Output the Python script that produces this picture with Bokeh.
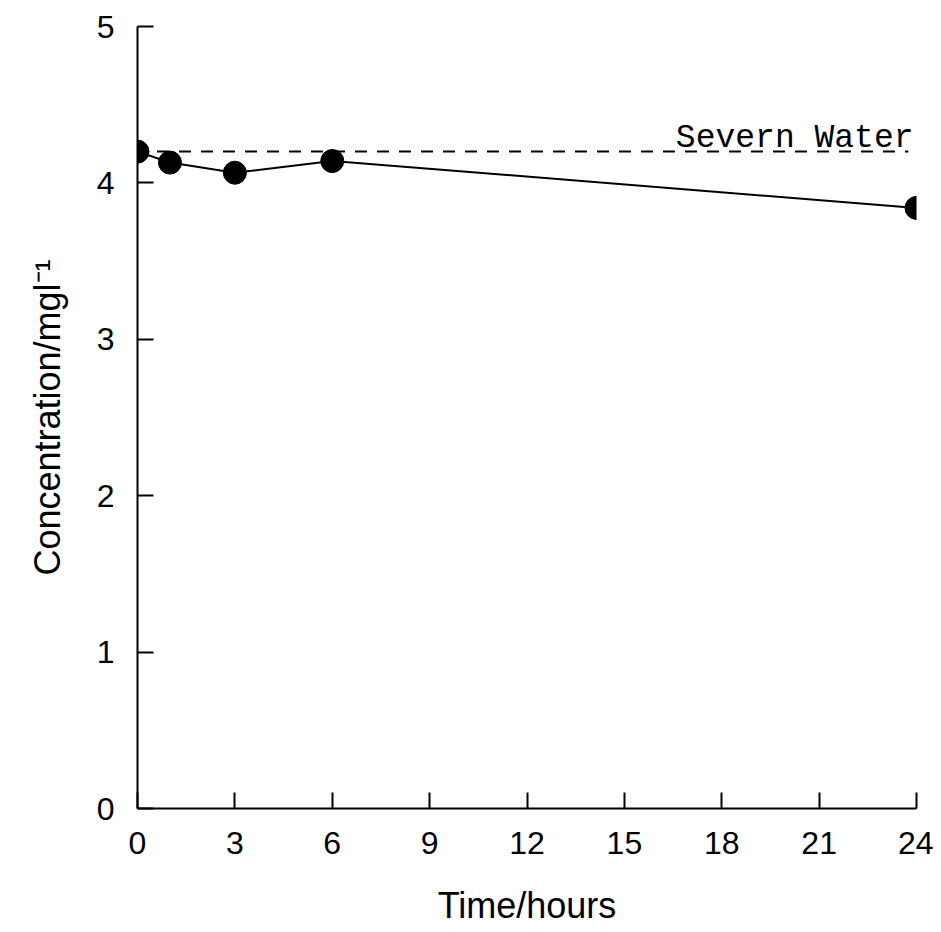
from bokeh.plotting import figure
from bokeh.models import Range1d, FixedTicker
from bokeh.core.properties import value
from bokeh.embed import file_html
from bokeh.resources import INLINE

# data
time_hours = [0, 1, 3, 6, 24]
concentration = [4.20, 4.13, 4.065, 4.14, 3.84]
severn_x = [0.6, 23.75]
severn_y = [4.2, 4.2]
severn_label = "Severn Water"
x_ticks = [0, 3, 6, 9, 12, 15, 18, 21, 24]
y_ticks = [0, 1, 2, 3, 4, 5]
x_title = "Time/hours"
y_title = "Concentration/mgl\u207b\u00b9"

p = figure(width=933, height=928, output_backend="svg", toolbar_location=None,
           x_range=Range1d(0, 24), y_range=Range1d(0, 5),
           min_border_left=137, min_border_right=17, min_border_top=26,
           min_border_bottom=119)
p.outline_line_color = None
p.grid.visible = False
p.background_fill_color = "white"
p.border_fill_color = "white"

p.xaxis.ticker = FixedTicker(ticks=x_ticks)
p.yaxis.ticker = FixedTicker(ticks=y_ticks)
for ax in (p.xaxis, p.yaxis):
    ax.major_tick_in = 16
    ax.major_tick_out = 0
    ax.minor_tick_in = 0
    ax.minor_tick_out = 0
    ax.axis_line_width = 2
    ax.major_tick_line_width = 2
    ax.axis_line_color = "black"
    ax.major_tick_line_color = "black"
    ax.major_label_text_font = "Liberation Sans"
    ax.major_label_text_font_size = "32px"
    ax.major_label_text_color = "black"
    ax.axis_label_text_font = "Liberation Sans"
    ax.axis_label_text_font_size = "36px"
    ax.axis_label_text_font_style = "normal"
    ax.axis_label_text_color = "black"

p.xaxis.axis_label = x_title
p.yaxis.axis_label = y_title
p.xaxis.major_label_standoff = 23
p.yaxis.major_label_standoff = 23
p.xaxis.axis_label_standoff = 28
p.yaxis.axis_label_standoff = 26

p.line(severn_x, severn_y, line_color="black", line_width=2, line_dash="12 10")
p.text(x=[24], y=[4.2], text=[severn_label], text_align="right",
       text_baseline="alphabetic", x_offset=-3, y_offset=-13,
       text_font=value("Liberation Mono"), text_font_size="33px",
       text_color="black")

p.line(time_hours, concentration, line_color="black", line_width=2)
p.scatter(time_hours, concentration, size=23, fill_color="black",
          line_color="black")

open("out.html", "w").write(file_html(p, INLINE))
